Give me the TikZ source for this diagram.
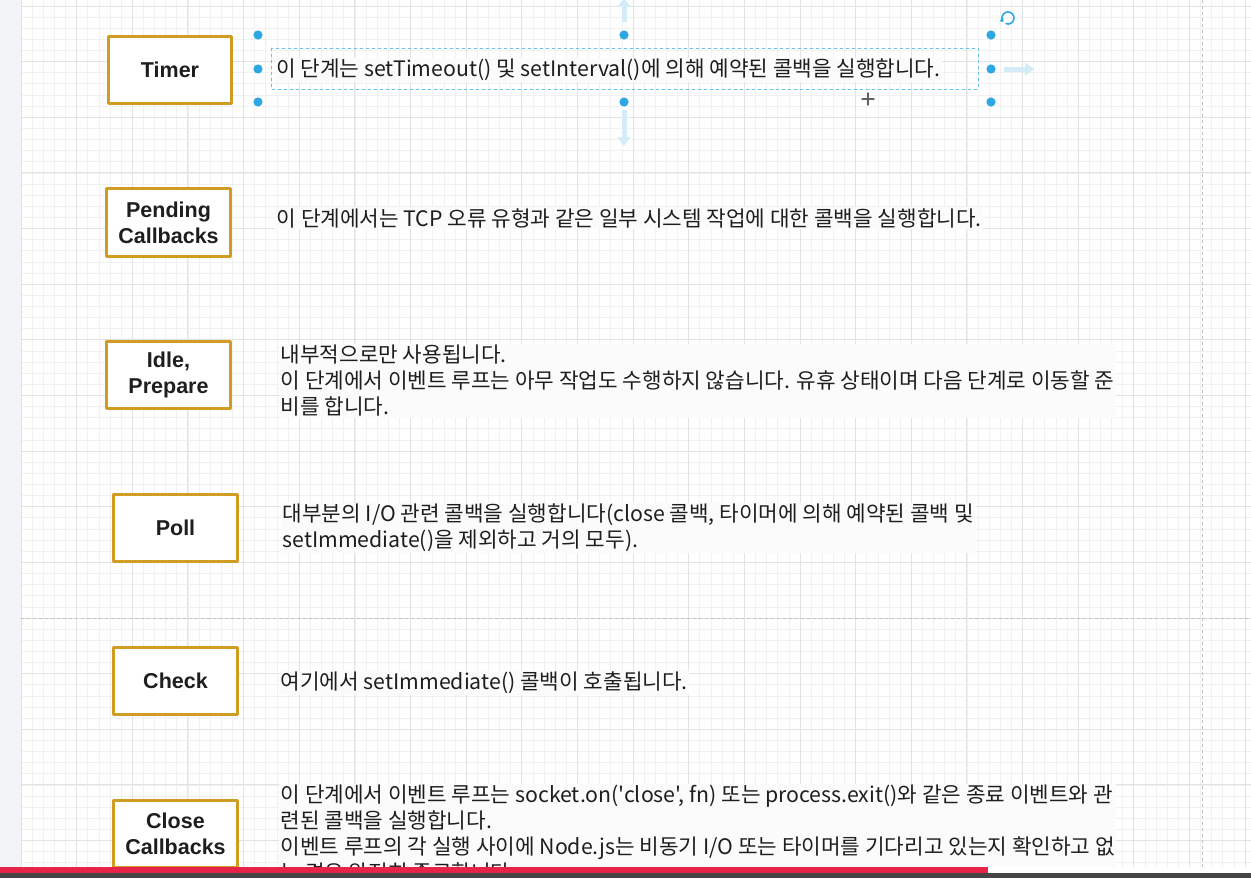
\documentclass[tikz,border=0pt]{standalone}
\usepackage{fontspec}
\setmainfont{Liberation Sans}
\newfontfamily\krfont{Noto Sans CJK KR}
\usepackage{xcolor}
\usepackage{tikz}
\usetikzlibrary{arrows.meta,positioning}
\definecolor{canvasbg}{HTML}{FFFFFF}
\definecolor{panelbg}{HTML}{F3F4F7}
\definecolor{gridminor}{HTML}{F1F1F1}
\definecolor{gridmajor}{HTML}{E3E3E3}
\definecolor{pagebreak}{HTML}{C4C4C4}
\definecolor{gold}{HTML}{D09C22}
\definecolor{ink}{HTML}{1E1E1E}
\definecolor{handle}{HTML}{2EA8E2}
\definecolor{hint}{HTML}{D4ECF8}
\definecolor{barred}{HTML}{E8234A}
\definecolor{bardark}{HTML}{454545}
\tikzset{
  sheet/.style={
    x=1pt,
    y=-1pt,
    line cap=round,
    line join=round
  },
  phasebox/.style={
    draw=gold,
    line width=3.4pt,
    fill=white,
    align=center,
    minimum width=123.5pt,
    minimum height=67.5pt,
    inner sep=2pt,
    font=\fontsize{21.5}{26}\selectfont\bfseries,
    text=ink
  },
  desctext/.style={
    fill=black!1.5,
    align=left,
    anchor=west,
    inner sep=1.5pt,
    font=\krfont\fontsize{21.3}{26}\selectfont,
    text=ink
  },
  selhandle/.style={
    fill=handle,
    draw=none
  },
  hintarrow/.style={
    -{Triangle[length=9pt,width=13pt]},
    draw=hint,
    line width=5pt,
    line cap=butt
  }
}
\begin{document}
\begin{tikzpicture}[sheet]
\useasboundingbox (0,0) rectangle (1251,878);
\fill[canvasbg] (0,0) rectangle (1251,878);
\fill[panelbg] (0,0) rectangle (20.5,878);
\foreach \i in {0,...,110}
  \draw[gridminor, line width=0.8pt] ({21.06+11.128*\i},0) -- ({21.06+11.128*\i},878);
\foreach \j in {0,...,78}
  \draw[gridminor, line width=0.8pt] (21.06,{6+11.128*\j}) -- (1251,{6+11.128*\j});
\foreach \i in {0,...,22}
  \draw[gridmajor, line width=1pt] ({21.06+55.64*\i},0) -- ({21.06+55.64*\i},878);
\foreach \j in {0,...,15}
  \draw[gridmajor, line width=1pt] (21.06,{6+55.64*\j}) -- (1251,{6+55.64*\j});
\draw[pagebreak, dashed, line width=0.9pt] (21,618) -- (1251,618);
\draw[pagebreak, dashed, line width=0.9pt] (1202,0) -- (1202,878);

\node[phasebox] (timer) at (170,70) {Timer};
\node[phasebox] (pending) at (168.5,222.5) {Pending\\Callbacks};
\node[phasebox] (idle) at (168.5,375) {Idle,\\Prepare};
\node[phasebox] (poll) at (175.5,528) {Poll};
\node[phasebox] (check) at (175.5,681) {Check};
\node[phasebox] (close) at (175.5,834) {Close\\Callbacks};

\node[desctext, right=41pt of timer] (timertxt) {이 단계는 setTimeout() 및 setInterval()에 의해 예약된 콜백을 실행합니다.};
\node[desctext, right=43pt of pending, yshift=4.5pt] (pendingtxt) {이 단계에서는 TCP 오류 유형과 같은 일부 시스템 작업에 대한 콜백을 실행합니다.};
\node[desctext, right=47pt of idle, yshift=-6pt] (idletxt) {내부적으로만 사용됩니다.\\이 단계에서 이벤트 루프는 아무 작업도 수행하지 않습니다. 유휴 상태이며 다음 단계로 이동할 준\\비를 합니다.};
\node[desctext, right=42pt of poll] (polltxt) {대부분의 I/O 관련 콜백을 실행합니다(close 콜백, 타이머에 의해 예약된 콜백 및\\setImmediate()을 제외하고 거의 모두).};
\node[desctext, right=40pt of check, yshift=-2pt] (checktxt) {여기에서 setImmediate() 콜백이 호출됩니다.};
\node[desctext, right=40pt of close] (closetxt) {이 단계에서 이벤트 루프는 socket.on('close', fn) 또는 process.exit()와 같은 종료 이벤트와 관\\련된 콜백을 실행합니다.\\이벤트 루프의 각 실행 사이에 Node.js는 비동기 I/O 또는 타이머를 기다리고 있는지 확인하고 없\\는 경우 완전히 종료합니다.};

\draw[handle!70, dashed, line width=0.8pt] (271,48) rectangle (978,89);
\foreach \hx/\hy in {258/35,624/35,991/35,258/69,991/69,258/102,624/102,991/102}
  \fill[selhandle] (\hx,\hy) circle (4.6);
\draw[hintarrow] (624,22) -- (624,-2);
\draw[hintarrow] (624,110) -- (624,146);
\draw[hintarrow] (1004,69) -- (1034,69);
\draw[handle, line width=1.6pt, -{Triangle[length=3pt,width=5pt]}] (1008,18) ++(110:6) arc[start angle=110, end angle=-220, radius=6];
\draw[ink!70, line width=1.4pt] (862,99) -- (874,99) (868,93) -- (868,105);

\fill[barred] (0,867) rectangle (988,872.5);
\fill[white] (988,867) rectangle (1251,872.5);
\fill[bardark] (0,872.5) rectangle (1251,878);
\end{tikzpicture}
\end{document}
